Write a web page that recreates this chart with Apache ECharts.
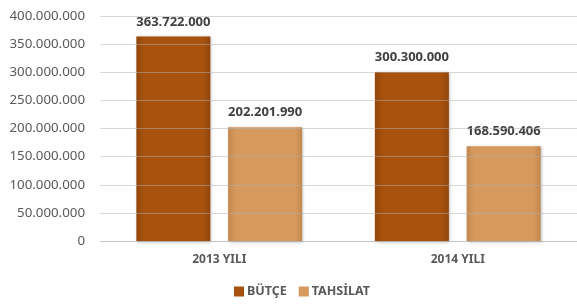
<!DOCTYPE html>
<html>
<head>
<meta charset="utf-8">
<script src="https://cdn.jsdelivr.net/npm/echarts@6/dist/echarts.min.js"></script>
<style>html,body{margin:0;padding:0;background:#fff;}#c{width:577px;height:305px;}</style>
</head>
<body>
<div id="c"></div>
<script>
var categories = ['2013 YILI', '2014 YILI'];
var seriesNames = ['BÜTÇE', 'TAHSİLAT'];
var butce = [363722000, 300300000];
var tahsilat = [202201990, 168590406];

function fmt(v) {
  return String(Math.round(v)).replace(/\B(?=(\d{3})+(?!\d))/g, '.');
}
function grad(edge, mid) {
  return new echarts.graphic.LinearGradient(0, 0, 1, 0, [
    {offset: 0, color: edge}, {offset: 0.1, color: mid},
    {offset: 0.9, color: mid}, {offset: 1, color: edge}
  ]);
}
var chart = echarts.init(document.getElementById('c'));
var font = '"Noto Sans", "Open Sans", sans-serif';
chart.setOption({
  animation: false,
  textStyle: {fontFamily: font},
  grid: {left: 100, right: -3, top: 16, bottom: 64, containLabel: false},
  legend: {
    data: seriesNames, bottom: 2, left: 229, itemWidth: 10, itemHeight: 10, itemGap: 12,
    icon: 'rect',
    textStyle: {fontFamily: font, fontSize: 12.5, fontWeight: 'bold', color: '#595959', padding: [0, 0, 0, -2]}
  },
  xAxis: {
    type: 'category', data: categories,
    axisLine: {lineStyle: {color: '#D9D9D9'}},
    axisTick: {show: false},
    axisLabel: {fontFamily: font, fontSize: 12, fontWeight: 'bold', color: '#595959', margin: 13}
  },
  yAxis: {
    type: 'value', min: 0, max: 400000000, interval: 50000000, z: 3,
    axisLine: {show: false}, axisTick: {show: false},
    splitLine: {lineStyle: {color: 'rgba(175,175,175,0.5)'}},
    axisLabel: {fontFamily: font, fontSize: 13.3, color: '#595959', margin: 15, formatter: fmt}
  },
  series: [
    {
      name: seriesNames[0], type: 'bar', data: butce, barWidth: 74, barGap: '24%',
      itemStyle: {color: grad('#93460B', '#A7520E'), shadowColor: 'rgba(0,0,0,0.3)', shadowBlur: 3, shadowOffsetX: 1, shadowOffsetY: 1},
      label: {show: true, position: 'top', distance: 8, formatter: function(p){return fmt(p.value);}, fontFamily: font, fontSize: 13, fontWeight: 'bold', color: '#404040'}
    },
    {
      name: seriesNames[1], type: 'bar', data: tahsilat, barWidth: 74,
      itemStyle: {color: grad('#C2874D', '#D79A5E'), shadowColor: 'rgba(0,0,0,0.3)', shadowBlur: 3, shadowOffsetX: 1, shadowOffsetY: 1},
      label: {show: true, position: 'top', distance: 8, formatter: function(p){return fmt(p.value);}, fontFamily: font, fontSize: 13, fontWeight: 'bold', color: '#404040'}
    }
  ]
});
</script>
</body>
</html>
